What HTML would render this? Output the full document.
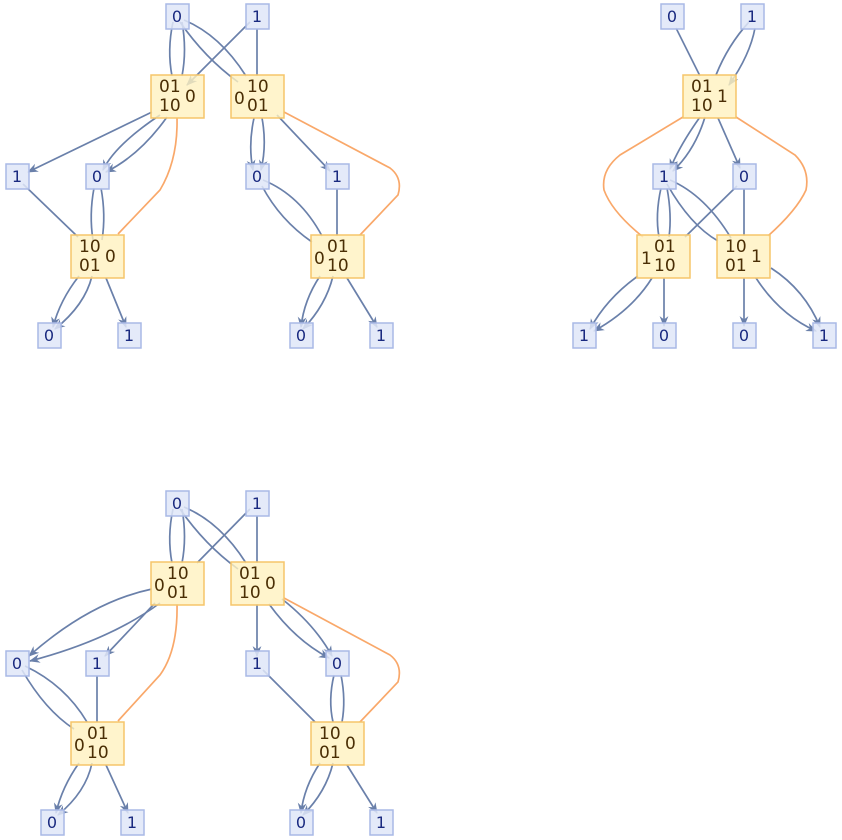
<!DOCTYPE html>
<html><head><meta charset="utf-8"><style>
html,body{margin:0;padding:0;background:#fff}
svg{display:block}
.e{fill:none;stroke:#6a80aa;stroke-width:1.7}
.o{fill:none;stroke:#f9a86a;stroke-width:1.7}
.s{fill:#dfe6f8;fill-opacity:.85;stroke:#a9b9e6;stroke-width:1.5}
.y{fill:#fff1bf;fill-opacity:.8;stroke:#f5c56a;stroke-width:1.5}
.t{font-family:"DejaVu Sans","Liberation Sans",sans-serif;font-size:16px;fill:#1a2a80;text-anchor:middle}
.m{font-family:"DejaVu Sans","Liberation Sans",sans-serif;font-size:17px;fill:#4a2e05}
</style></head><body>
<svg width="842" height="840" viewBox="0 0 842 840" xmlns="http://www.w3.org/2000/svg">
<defs>
<marker id="a" viewBox="0 0 10 10" refX="9" refY="5" markerWidth="11" markerHeight="11" markerUnits="userSpaceOnUse" orient="auto">
<path d="M0,1 L10,5 L0,9 L3,5 Z" fill="#6a80aa"/></marker>
</defs>

<!-- ===== Diagram 1 ===== -->
<g>
<path class="e" d="M173,22 Q167,50 172,76"/>
<path class="e" d="M182,22 Q187,50 182,76"/>
<path class="e" d="M180,22 Q205,58 238,82"/>
<path class="e" d="M184,20 Q220,35 246,76"/>
<path class="e" d="M250,22 L187,85" marker-end="url(#a)"/>
<path class="e" d="M257,29 L257,76"/>
<path class="e" d="M152,112 L28,172" marker-end="url(#a)"/>
<path class="e" d="M160,115 Q115,145 103,170" marker-end="url(#a)"/>
<path class="e" d="M167,117 Q140,155 106,172" marker-end="url(#a)"/>
<path class="o" d="M177,118 Q178,160 160,190 L118,234"/>
<path class="e" d="M254,118 Q248,145 253,170" marker-end="url(#a)"/>
<path class="e" d="M262,118 Q267,145 261,170" marker-end="url(#a)"/>
<path class="e" d="M277,115 L330,171" marker-end="url(#a)"/>
<path class="o" d="M284,112 L390,168 Q403,178 398,195 L360,235"/>
<path class="e" d="M23,184 L78,237"/>
<path class="e" d="M94,188 Q89,215 93,240"/>
<path class="e" d="M101,188 Q106,215 102,240"/>
<path class="e" d="M262,186 Q280,220 312,242"/>
<path class="e" d="M263,180 Q300,195 322,236"/>
<path class="e" d="M337,189 L337,236"/>
<path class="e" d="M79,276 Q60,300 53,327" marker-end="url(#a)"/>
<path class="e" d="M92,276 Q85,305 55,329" marker-end="url(#a)"/>
<path class="e" d="M106,278 L126,327" marker-end="url(#a)"/>
<path class="e" d="M320,276 Q304,300 301,327" marker-end="url(#a)"/>
<path class="e" d="M333,276 Q326,305 303,329" marker-end="url(#a)"/>
<path class="e" d="M347,278 L377,327" marker-end="url(#a)"/>

<rect class="s" x="166" y="4" width="23" height="25"/><text class="t" x="177" y="22">0</text>
<rect class="s" x="246" y="4" width="23" height="25"/><text class="t" x="257" y="22">1</text>
<rect class="y" x="151" y="75" width="53" height="43"/><text class="m" x="159" y="92">01</text><text class="m" x="159" y="111">10</text><text class="m" x="185" y="102">0</text>
<rect class="y" x="231" y="75" width="53" height="43"/><text class="m" x="234" y="104">0</text><text class="m" x="247" y="92">10</text><text class="m" x="247" y="111">01</text>
<rect class="s" x="6" y="164" width="23" height="25"/><text class="t" x="17" y="182">1</text>
<rect class="s" x="86" y="164" width="23" height="25"/><text class="t" x="97" y="182">0</text>
<rect class="s" x="246" y="164" width="23" height="25"/><text class="t" x="257" y="182">0</text>
<rect class="s" x="326" y="164" width="23" height="25"/><text class="t" x="337" y="182">1</text>
<rect class="y" x="71" y="235" width="53" height="43"/><text class="m" x="79" y="252">10</text><text class="m" x="79" y="271">01</text><text class="m" x="105" y="262">0</text>
<rect class="y" x="311" y="235" width="53" height="43"/><text class="m" x="314" y="264">0</text><text class="m" x="327" y="252">01</text><text class="m" x="327" y="271">10</text>
<rect class="s" x="38" y="323" width="23" height="25"/><text class="t" x="49" y="341">0</text>
<rect class="s" x="118" y="323" width="23" height="25"/><text class="t" x="129" y="341">1</text>
<rect class="s" x="290" y="323" width="23" height="25"/><text class="t" x="301" y="341">0</text>
<rect class="s" x="370" y="323" width="23" height="25"/><text class="t" x="381" y="341">1</text>
</g>

<!-- ===== Diagram 2 ===== -->
<g>
<path class="e" d="M676,28 L700,76"/>
<path class="e" d="M749,22 Q728,45 716,75"/>
<path class="e" d="M755,28 Q750,55 729,85" marker-end="url(#a)"/>
<path class="e" d="M700,117 Q680,145 670,169" marker-end="url(#a)"/>
<path class="e" d="M705,117 Q695,150 673,171" marker-end="url(#a)"/>
<path class="e" d="M718,118 L740,168" marker-end="url(#a)"/>
<path class="o" d="M683,117 L620,155 Q601,170 604,190 Q612,212 643,237"/>
<path class="o" d="M736,117 L795,155 Q810,170 806,190 Q797,210 768,236"/>
<path class="e" d="M661,188 Q655,215 659,237"/>
<path class="e" d="M667,188 Q672,215 669,237"/>
<path class="e" d="M670,180 Q705,195 731,238"/>
<path class="e" d="M667,184 Q690,225 718,241"/>
<path class="e" d="M737,186 L685,237"/>
<path class="e" d="M744,189 L744,236"/>
<path class="e" d="M638,276 Q607,298 590,329" marker-end="url(#a)"/>
<path class="e" d="M652,278 Q632,310 594,331" marker-end="url(#a)"/>
<path class="e" d="M664,278 L664,326" marker-end="url(#a)"/>
<path class="e" d="M744,278 L744,326" marker-end="url(#a)"/>
<path class="e" d="M756,278 Q780,315 816,331" marker-end="url(#a)"/>
<path class="e" d="M771,268 Q805,290 820,327" marker-end="url(#a)"/>

<rect class="s" x="661" y="4" width="23" height="25"/><text class="t" x="672" y="22">0</text>
<rect class="s" x="741" y="4" width="23" height="25"/><text class="t" x="752" y="22">1</text>
<rect class="y" x="683" y="75" width="53" height="43"/><text class="m" x="691" y="92">01</text><text class="m" x="691" y="111">10</text><text class="m" x="717" y="102">1</text>
<rect class="s" x="653" y="164" width="23" height="25"/><text class="t" x="664" y="182">1</text>
<rect class="s" x="733" y="164" width="23" height="25"/><text class="t" x="744" y="182">0</text>
<rect class="y" x="637" y="235" width="53" height="43"/><text class="m" x="641" y="264">1</text><text class="m" x="654" y="252">01</text><text class="m" x="654" y="271">10</text>
<rect class="y" x="717" y="235" width="53" height="43"/><text class="m" x="725" y="252">10</text><text class="m" x="725" y="271">01</text><text class="m" x="751" y="262">1</text>
<rect class="s" x="573" y="323" width="23" height="25"/><text class="t" x="584" y="341">1</text>
<rect class="s" x="653" y="323" width="23" height="25"/><text class="t" x="664" y="341">0</text>
<rect class="s" x="733" y="323" width="23" height="25"/><text class="t" x="744" y="341">0</text>
<rect class="s" x="813" y="323" width="23" height="25"/><text class="t" x="824" y="341">1</text>
</g>

<!-- ===== Diagram 3 ===== -->
<g>
<path class="e" d="M173,509 Q167,537 172,563"/>
<path class="e" d="M182,509 Q187,537 182,563"/>
<path class="e" d="M180,509 Q205,545 238,569"/>
<path class="e" d="M184,507 Q220,522 246,563"/>
<path class="e" d="M250,509 L197,563"/>
<path class="e" d="M257,516 L257,563"/>
<path class="e" d="M152,589 Q90,602 29,656" marker-end="url(#a)"/>
<path class="e" d="M160,603 Q110,640 30,661" marker-end="url(#a)"/>
<path class="e" d="M155,603 L105,656" marker-end="url(#a)"/>
<path class="o" d="M177,604 Q178,650 160,675 L118,721"/>
<path class="e" d="M257,604 L257,656" marker-end="url(#a)"/>
<path class="e" d="M269,604 Q295,640 329,658" marker-end="url(#a)"/>
<path class="e" d="M282,599 Q315,625 332,656" marker-end="url(#a)"/>
<path class="o" d="M284,598 L390,655 Q403,665 398,682 L360,722"/>
<path class="e" d="M22,670 Q45,710 74,729"/>
<path class="e" d="M25,666 Q65,685 87,722"/>
<path class="e" d="M97,676 L97,722"/>
<path class="e" d="M263,670 L315,722"/>
<path class="e" d="M334,675 Q328,700 333,722"/>
<path class="e" d="M341,675 Q346,700 342,722"/>
<path class="e" d="M79,763 Q62,787 56,813" marker-end="url(#a)"/>
<path class="e" d="M92,763 Q86,792 58,815" marker-end="url(#a)"/>
<path class="e" d="M106,765 L128,813" marker-end="url(#a)"/>
<path class="e" d="M320,763 Q304,787 301,813" marker-end="url(#a)"/>
<path class="e" d="M333,763 Q326,792 303,815" marker-end="url(#a)"/>
<path class="e" d="M347,765 L377,813" marker-end="url(#a)"/>

<rect class="s" x="166" y="491" width="23" height="25"/><text class="t" x="177" y="509">0</text>
<rect class="s" x="246" y="491" width="23" height="25"/><text class="t" x="257" y="509">1</text>
<rect class="y" x="151" y="562" width="53" height="43"/><text class="m" x="154" y="591">0</text><text class="m" x="167" y="579">10</text><text class="m" x="167" y="598">01</text>
<rect class="y" x="231" y="562" width="53" height="43"/><text class="m" x="239" y="579">01</text><text class="m" x="239" y="598">10</text><text class="m" x="265" y="589">0</text>
<rect class="s" x="6" y="651" width="23" height="25"/><text class="t" x="17" y="669">0</text>
<rect class="s" x="86" y="651" width="23" height="25"/><text class="t" x="97" y="669">1</text>
<rect class="s" x="246" y="651" width="23" height="25"/><text class="t" x="257" y="669">1</text>
<rect class="s" x="326" y="651" width="23" height="25"/><text class="t" x="337" y="669">0</text>
<rect class="y" x="71" y="722" width="53" height="43"/><text class="m" x="74" y="751">0</text><text class="m" x="87" y="739">01</text><text class="m" x="87" y="758">10</text>
<rect class="y" x="311" y="722" width="53" height="43"/><text class="m" x="319" y="739">10</text><text class="m" x="319" y="758">01</text><text class="m" x="345" y="749">0</text>
<rect class="s" x="41" y="810" width="23" height="25"/><text class="t" x="52" y="828">0</text>
<rect class="s" x="121" y="810" width="23" height="25"/><text class="t" x="132" y="828">1</text>
<rect class="s" x="290" y="810" width="23" height="25"/><text class="t" x="301" y="828">0</text>
<rect class="s" x="370" y="810" width="23" height="25"/><text class="t" x="381" y="828">1</text>
</g>
</svg>
</body></html>
